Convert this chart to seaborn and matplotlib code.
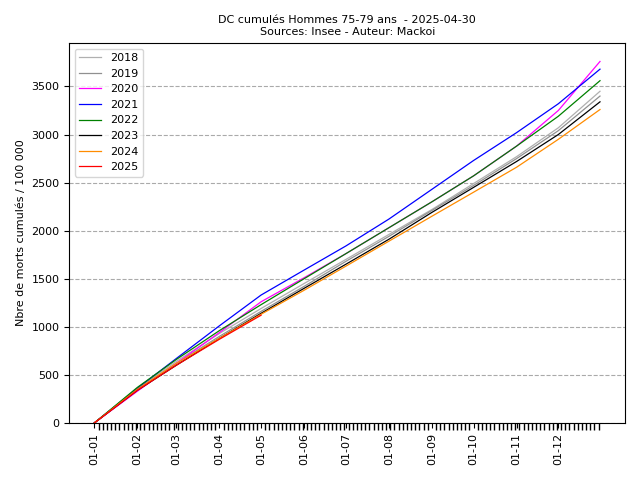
import numpy as np
import pandas as pd
import matplotlib
matplotlib.use("Agg")
import matplotlib.pyplot as plt
import seaborn as sns

# day index of the first of each month (+ last day)
days = [0, 31, 59, 90, 120, 151, 181, 212, 243, 273, 304, 334, 364]
month_labels = ["01-01", "01-02", "01-03", "01-04", "01-05", "01-06",
                "01-07", "01-08", "01-09", "01-10", "01-11", "01-12"]

y2018 = [0, 360, 640, 930, 1190, 1450, 1700, 1960, 2220, 2490, 2770, 3070, 3450]
y2019 = [0, 350, 620, 900, 1160, 1420, 1680, 1940, 2210, 2470, 2750, 3040, 3400]
y2020 = [0, 330, 620, 940, 1260, 1510, 1760, 2030, 2300, 2570, 2880, 3250, 3760]
y2021 = [0, 360, 670, 1010, 1330, 1590, 1840, 2120, 2430, 2730, 3020, 3320, 3680]
y2022 = [0, 370, 660, 960, 1230, 1500, 1760, 2030, 2300, 2570, 2880, 3190, 3560]
y2023 = [0, 340, 600, 880, 1140, 1400, 1650, 1910, 2190, 2450, 2720, 3000, 3340]
y2024 = [0, 350, 620, 880, 1130, 1380, 1630, 1890, 2150, 2400, 2660, 2950, 3260]
y2025 = [0, 340, 600, 870, 1120]

series = {"2018": y2018, "2019": y2019, "2020": y2020, "2021": y2021,
          "2022": y2022, "2023": y2023, "2024": y2024, "2025": y2025}
colors = {"2018": "#b0b0b0", "2019": "#909090", "2020": "magenta", "2021": "blue",
          "2022": "green", "2023": "black", "2024": "darkorange", "2025": "red"}

rows = []
for year, vals in series.items():
    for d, v in zip(days, vals):
        rows.append({"jour": d, "val": v, "annee": year})
df = pd.DataFrame(rows)

fig, ax = plt.subplots(figsize=(6.4, 4.8), dpi=100)
sns.lineplot(data=df, x="jour", y="val", hue="annee", palette=colors,
             linewidth=0.9, ax=ax)

ax.set_xticks(days[:-1])
ax.set_xticklabels(month_labels, rotation=90, fontsize=8)
ax.set_xticks(np.arange(0, 365, 3), minor=True)
ax.tick_params(axis="x", which="minor", length=5, width=1)
ax.tick_params(axis="y", labelsize=8)
ax.set_ylim(0, 3950)
ax.set_yticks(range(0, 4000, 500))
ax.yaxis.grid(True, linestyle="--", color="#aaaaaa")
ax.set_xlabel("")
ax.set_ylabel("Nbre de morts cumulés / 100 000", fontsize=8)
ax.set_title("DC cumulés Hommes 75-79 ans  - 2025-04-30\nSources: Insee - Auteur: Mackoi", fontsize=8)
ax.legend(loc="upper left", fontsize=8, title=None)
plt.subplots_adjust(left=0.108, right=0.977, top=0.91, bottom=0.119)
plt.savefig("out.png", dpi=100)
